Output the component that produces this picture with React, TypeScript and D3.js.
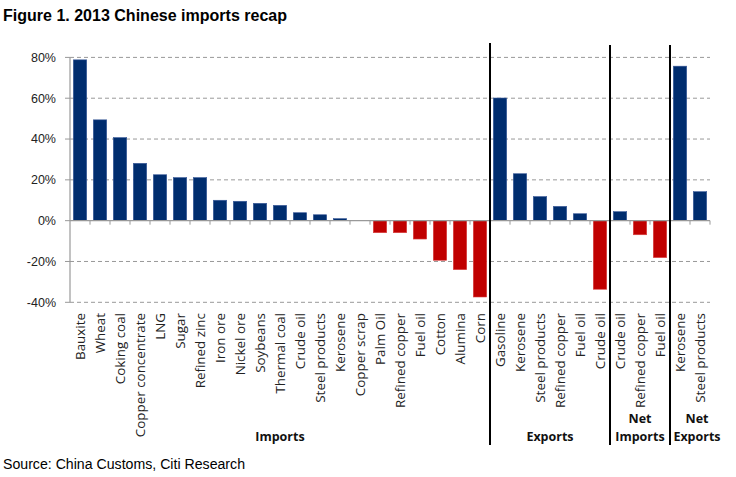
import React from "react";
import * as d3 from "d3";

const importCats = ["Bauxite","Wheat","Coking coal","Copper concentrate","LNG","Sugar","Refined zinc","Iron ore","Nickel ore","Soybeans","Thermal coal","Crude oil","Steel products","Kerosene","Copper scrap","Palm Oil","Refined copper","Fuel oil","Cotton","Alumina","Corn"];
const importVals = [78.8,49.4,40.7,28.1,22.5,21.1,21.1,10.0,9.5,8.5,7.5,3.9,2.9,1.0,0,-5.9,-5.9,-9.0,-19.4,-24.0,-37.4];
const exportCats = ["Gasoline","Kerosene","Steel products","Refined copper","Fuel oil","Crude oil"];
const exportVals = [60.1,23.0,11.8,7.0,3.4,-33.6];
const netImportCats = ["Crude oil","Refined copper","Fuel oil"];
const netImportVals = [4.4,-6.9,-18.1];
const netExportCats = ["Kerosene","Steel products"];
const netExportVals = [75.7,14.2];
const yTicks = [-40,-20,0,20,40,60,80];

const groups = [
  { name: ["Imports"], cats: importCats, vals: importVals },
  { name: ["Exports"], cats: exportCats, vals: exportVals },
  { name: ["Net", "Imports"], cats: netImportCats, vals: netImportVals },
  { name: ["Net", "Exports"], cats: netExportCats, vals: netExportVals },
];

type Row = { key: string; label: string; value: number; group: number };
const rows: Row[] = [];
groups.forEach((g, gi) => g.cats.forEach((c, i) => rows.push({ key: gi + "-" + i, label: c, value: g.vals[i], group: gi })));

export default function App() {
  const W = 736, H = 477;
  const x0 = 70, x1 = 710;
  const x = d3.scaleBand<string>().domain(rows.map(r => r.key)).range([x0, x1]).paddingInner(0.33).paddingOuter(0.165);
  const step = x.step();
  const y = d3.scaleLinear().domain([-40, 80]).range([302.3, 57.4]);
  const navy = "#002D6E";
  const red = "#C00000";
  const labelFont = "'Open Sans', Lato, sans-serif";

  let idx = 0;
  const bounds = groups.map(g => { const s = idx; idx += g.cats.length; return [s, idx]; });

  return (
    <svg width={W} height={H} style={{ position: "absolute", left: 0, top: 0, background: "#fff" }}>
      <text x={3} y={21} fontFamily="'Liberation Sans Narrow', 'Arial Narrow', 'Liberation Sans', Arial" fontWeight="bold" fontSize={16} textLength={284} lengthAdjust="spacingAndGlyphs" fill="#000">Figure 1. 2013 Chinese imports recap</text>

      {yTicks.filter(t => t !== 0).map(t => (
        <line key={"g" + t} x1={x0} x2={x1} y1={y(t)} y2={y(t)} stroke="#999" strokeWidth={1} strokeDasharray="4,3" />
      ))}
      <line x1={x0} x2={x0} y1={y(80)} y2={y(-40)} stroke="#999" strokeWidth={1.2} />
      {yTicks.map(t => (
        <g key={"t" + t}>
          <line x1={x0 - 5} x2={x0} y1={y(t)} y2={y(t)} stroke="#999" strokeWidth={1} />
          <text x={56} y={y(t)} dy="0.35em" textAnchor="end" fontFamily="'Liberation Sans', Arial, sans-serif" fontSize={12.5} fill="#222">{t + "%"}</text>
        </g>
      ))}

      {rows.map(r => (
        <rect key={r.key} x={x(r.key)} width={x.bandwidth()} y={y(Math.max(0, r.value))} height={Math.abs(y(r.value) - y(0))}
          fill={r.value >= 0 ? navy : red} stroke={r.value >= 0 ? "#3a5a99" : "#d94040"} strokeWidth={0.6} />
      ))}

      <line x1={x0} x2={x1} y1={y(0)} y2={y(0)} stroke="#999" strokeWidth={1.2} />
      {rows.map((r, i) => (
        <line key={"xt" + i} x1={x0 + (i + 1) * step} x2={x0 + (i + 1) * step} y1={y(0)} y2={y(0) + 4} stroke="#999" strokeWidth={1} />
      ))}

      {rows.map(r => {
        const cx = (x(r.key) as number) + x.bandwidth() / 2;
        return (
          <text key={"l" + r.key} transform={`translate(${cx + 4.5},313) rotate(-90)`} textAnchor="end" fontFamily={labelFont} fontSize={13.4} fill="#222">{r.label}</text>
        );
      })}

      {bounds.slice(1).map((b, i) => (
        <line key={"s" + i} x1={x0 + b[0] * step} x2={x0 + b[0] * step} y1={i === 0 ? 43 : 45} y2={445} stroke="#000" strokeWidth={2} />
      ))}

      {groups.map((g, gi) => {
        const b = bounds[gi];
        let cx = x0 + ((b[0] + b[1]) / 2) * step;
        if (gi === 3) cx += 7;
        return g.name.map((n, ni) => (
          <text key={"gl" + gi + ni} x={cx} y={441 - (g.name.length - 1 - ni) * 18} textAnchor="middle" fontFamily={labelFont} fontWeight="bold" fontSize={12.5} fill="#111">{n}</text>
        ));
      })}

      <text x={3} y={469} fontFamily="'Liberation Sans Narrow', 'Arial Narrow', 'Liberation Sans', Arial" fontSize={14} textLength={242} lengthAdjust="spacingAndGlyphs" fill="#000">Source: China Customs, Citi Research</text>
    </svg>
  );
}
